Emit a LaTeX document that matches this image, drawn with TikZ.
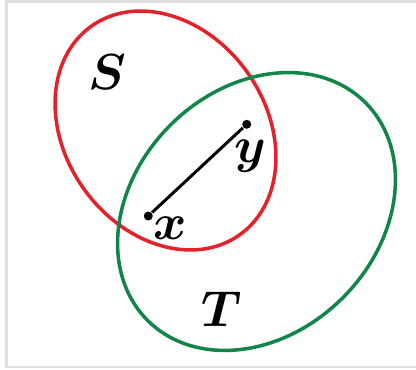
\documentclass[tikz,border=0pt]{standalone}
\usepackage{amsmath,amssymb}
\usepackage{tikz}
\usetikzlibrary{positioning}
\definecolor{SetRed}{HTML}{E3222B}
\definecolor{SetGreen}{HTML}{14854A}
\definecolor{Frame}{HTML}{E0E0E0}
\tikzset{
  dot/.style={circle,fill=black,inner sep=0pt,minimum size=0.09cm},
  setlabel/.style={inner sep=0pt}
}
\begin{document}
\begin{tikzpicture}[font=\fontsize{14pt}{16pt}\selectfont]
\useasboundingbox (0,0) rectangle (4.16,3.69);
\draw[Frame,line width=0.6pt] (0.065,0.02) rectangle (4.6,3.675);
% the two sets
\draw[SetRed,line width=1pt,rotate around={-54.6:(1.655,2.385)}]
  (1.655,2.385) ellipse (1.28 and 1.004);
\draw[SetGreen,line width=1pt,rotate around={45:(2.565,1.575)}]
  (2.565,1.575) ellipse (1.54 and 1.22);
\node[setlabel] (S) at (1.07,2.965) {$\boldsymbol{S}$};
\node[setlabel] (T) at (2.215,0.595) {$\boldsymbol{T}$};
% segment between the points
\node[dot] (y) at (2.467,2.447) {};
\node[dot] (x) at (1.483,1.53) {};
\draw[line width=0.85pt] (x) -- (y);
\node[setlabel] (ylab) at (2.50,2.13) {$\boldsymbol{y}$};
\node[setlabel] (xlab) at (1.70,1.41) {$\boldsymbol{x}$};
\end{tikzpicture}
\end{document}
